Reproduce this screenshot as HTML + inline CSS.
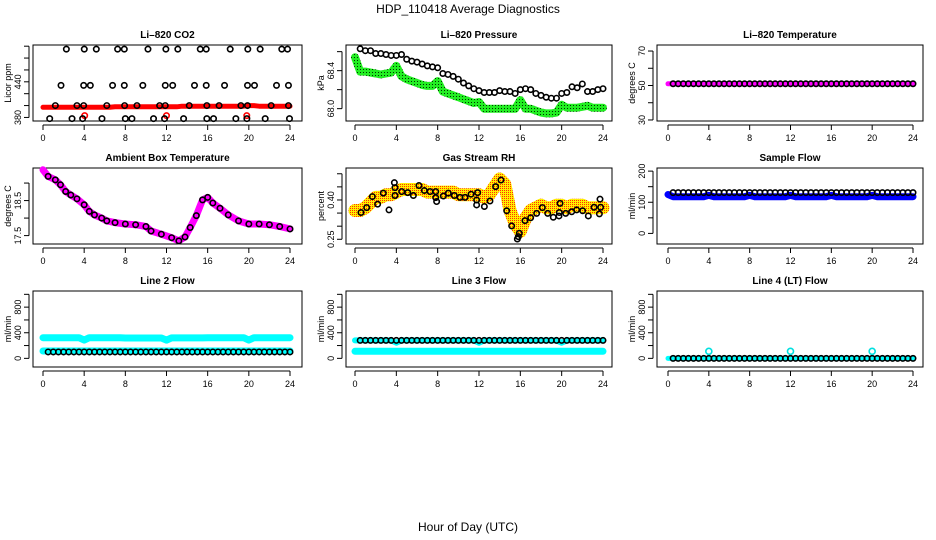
<!DOCTYPE html>
<html><head><meta charset="utf-8"><style>
html,body{margin:0;padding:0;background:#fff;}
svg{display:block;font-family:"Liberation Sans",sans-serif;}
</style></head><body>
<svg id="chart" width="936" height="540" viewBox="0 0 936 540">
<defs>
<pattern id="rhPat" width="2" height="2" patternUnits="userSpaceOnUse"><rect width="2" height="2" fill="#ffee00"/><rect width="1" height="1" fill="#ff3300"/></pattern>
<pattern id="grPat" width="3" height="3" patternUnits="userSpaceOnUse"><rect width="3" height="3" fill="#22ee22"/><rect width="1" height="1" fill="#003300"/></pattern>
</defs>
<text x="468" y="13" font-size="12" text-anchor="middle">HDP_110418  Average Diagnostics</text>
<text x="468" y="531" font-size="12" text-anchor="middle">Hour of Day (UTC)</text>
</svg>
<script>
// ---- shared x categories (hours) ----
const H0 = [0,0.5,1,1.5,2,2.5,3,3.5,4,4.5,5,5.5,6,6.5,7,7.5,8,8.5,9,9.5,10,10.5,11,11.5,12,12.5,13,13.5,14,14.5,15,15.5,16,16.5,17,17.5,18,18.5,19,19.5,20,20.5,21,21.5,22,22.5,23,23.5,24];
const H1 = [0.5,1,1.5,2,2.5,3,3.5,4,4.5,5,5.5,6,6.5,7,7.5,8,8.5,9,9.5,10,10.5,11,11.5,12,12.5,13,13.5,14,14.5,15,15.5,16,16.5,17,17.5,18,18.5,19,19.5,20,20.5,21,21.5,22,22.5,23,23.5,24];
const xTickLabels = ["0","4","8","12","16","20","24"];
const xTicks = [0,4,8,12,16,20,24];

// ---- CO2 ----
const co2Red = [397,397,397,397,397,397,397,397,397,397,397,397,397,397,398,398,398,398,398,398,398,398,398,398,398,398,398,399,399,399,399,399,399,399,399,399,399,399,399,399,400,400,399,399,399,399,399,399,399];
const co2RedPtsH = [4.05,12.0,19.8];
const co2RedPtsV = [383,383,383];
const co2BlkH = [2.27,4.01,5.18,7.25,7.9,10.2,11.94,13.1,15.28,15.86,18.19,19.9,21.1,23.2,23.76,
 1.75,3.95,4.6,6.76,7.9,9.7,11.88,12.6,14.72,15.86,17.64,19.87,20.55,22.69,23.85,
 1.2,3.3,3.95,6.2,7.93,9.13,11.33,11.88,14.21,15.92,17.11,19.23,19.87,22.17,23.85,
 0.65,2.82,3.85,5.73,8.0,8.64,10.74,11.81,13.66,15.92,16.57,18.74,19.81,21.59,23.95];
const co2BlkV = [495,495,495,495,495,495,495,495,495,495,495,495,495,495,495,
 434,434,434,434,434,434,434,434,434,434,434,434,434,434,434,
 400,400,400,400,400,400,400,400,400,400,400,400,400,400,400,
 378,378,378,378,378,378,378,378,378,378,378,378,378,378,378];

// ---- Pressure ----
const presBlk = [68.63,68.61,68.61,68.58,68.58,68.57,68.56,68.56,68.57,68.52,68.50,68.49,68.47,68.45,68.44,68.43,68.37,68.36,68.34,68.31,68.27,68.24,68.21,68.19,68.17,68.17,68.17,68.19,68.18,68.18,68.16,68.20,68.21,68.20,68.16,68.14,68.12,68.11,68.11,68.16,68.17,68.23,68.22,68.26,68.18,68.18,68.20,68.21];
const presGrn = [68.54,68.39,68.39,68.38,68.37,68.36,68.37,68.38,68.45,68.34,68.31,68.29,68.27,68.25,68.24,68.24,68.29,68.18,68.16,68.14,68.12,68.10,68.08,68.06,68.07,68.00,68.00,68.00,68.00,68.00,68.00,68.00,68.09,68.00,68.00,67.98,67.96,67.95,67.95,67.96,68.04,68.01,68.01,68.01,68.02,68.03,68.01,68.01,68.01];

// ---- Li-820 temperature ----
const tempMag = [51,51,51,51,51,51,51,51,51,51,51,51,51,51,51,51,51,51,51,51,51,51,51,51,51,51,51,51,51,51,51,51,51,51,51,51,51,51,51,51,51,51,51,51,51,51,51,51,51];
const tempBlk = [51,51,51,51,51,51,51,51,51,51,51,51,51,51,51,51,51,51,51,51,51,51,51,51,51,51,51,51,51,51,51,51,51,51,51,51,51,51,51,51,51,51,51,51,51,51,51,51];

// ---- Ambient box temperature ----
const ambH = [0,0.5,1.2,1.7,2.2,2.7,3.3,4,4.5,5,5.7,6.2,7,8,9,10,10.5,11.5,12.5,13.2,13.8,14.3,14.9,15.5,16,16.5,17.2,18,19,20,21,22,23,24];
const ambV = [19.38,19.19,19.09,18.95,18.76,18.66,18.55,18.38,18.19,18.09,18.0,17.92,17.87,17.83,17.81,17.76,17.63,17.54,17.44,17.35,17.46,17.73,18.07,18.52,18.59,18.43,18.28,18.09,17.92,17.83,17.83,17.81,17.76,17.69];

// ---- Gas stream RH ----
const rhBand = [0.36,0.36,0.37,0.39,0.41,0.41,0.42,0.42,0.43,0.44,0.44,0.44,0.44,0.44,0.43,0.43,0.43,0.43,0.43,0.43,0.42,0.42,0.42,0.42,0.42,0.41,0.42,0.45,0.48,0.46,0.36,0.31,0.28,0.33,0.36,0.37,0.38,0.37,0.37,0.38,0.38,0.37,0.38,0.38,0.38,0.37,0.37,0.37,0.37];
const rhBlkH = [0.58,1.13,1.68,2.19,2.74,3.29,3.81,3.87,3.87,4.52,5.1,5.65,6.19,6.71,7.26,7.81,7.81,7.9,8.55,9.03,9.61,10.16,10.65,11.23,11.77,11.77,11.87,12.52,13.06,13.61,14.13,14.68,15.16,15.71,15.81,15.9,16.45,17.0,17.58,18.13,18.65,19.19,19.74,19.84,19.77,20.39,20.97,21.45,22.03,22.58,23.13,23.65,23.71,23.77];
const rhBlkV = [0.352,0.371,0.413,0.384,0.426,0.362,0.466,0.447,0.417,0.432,0.428,0.417,0.455,0.436,0.432,0.432,0.409,0.394,0.415,0.426,0.417,0.410,0.410,0.422,0.400,0.381,0.428,0.375,0.396,0.451,0.476,0.359,0.301,0.251,0.260,0.273,0.321,0.332,0.349,0.371,0.349,0.334,0.339,0.387,0.352,0.349,0.355,0.362,0.359,0.339,0.372,0.347,0.403,0.372];

// ---- Sample flow ----
const sampBlue = [125,118,118,118,118,118,118,118,122,118,118,118,118,118,118,118,122,118,118,118,118,118,118,118,122,118,118,118,118,118,118,118,122,118,118,118,118,118,118,118,122,118,118,118,118,118,118,118,118];
const sampBlk = [131,131,131,131,131,131,131,131,131,131,131,131,131,131,131,131,131,131,131,131,131,131,131,131,131,131,131,131,131,131,131,131,131,131,131,131,131,131,131,131,131,131,131,131,131,131,131,131];

// ---- Line 2 ----
const l2CyanHi = [322,322,322,322,322,322,322,322,285,322,322,322,322,322,322,322,318,318,318,318,318,318,318,318,285,320,320,320,320,320,320,320,322,322,322,322,322,322,322,322,285,322,322,322,322,322,322,322,322];
const l2CyanLo = [115,115,115,115,115,115,115,115,115,115,115,115,115,115,115,115,115,115,115,115,115,115,115,115,115,115,115,115,115,115,115,115,115,115,115,115,115,115,115,115,115,115,115,115,115,115,115,115,115];
const l2Blk = [100,100,100,100,100,100,100,100,100,100,100,100,100,100,100,100,100,100,100,100,100,100,100,100,100,100,100,100,100,100,100,100,100,100,100,100,100,100,100,100,100,100,100,100,100,100,100,100];

// ---- Line 3 ----
const l3CyanHi = [280,280,280,280,280,280,280,280,245,280,280,280,280,280,280,280,280,280,280,280,280,280,280,280,245,280,280,280,280,280,280,280,280,280,280,280,280,280,280,280,245,280,280,280,280,280,280,280,280];
const l3CyanLo = [110,110,110,110,110,110,110,110,110,110,110,110,110,110,110,110,110,110,110,110,110,110,110,110,110,110,110,110,110,110,110,110,110,110,110,110,110,110,110,110,110,110,110,110,110,110,110,110,110];
const l3Blk = [280,280,280,280,280,280,280,280,280,280,280,280,280,280,280,280,280,280,280,280,280,280,280,280,280,280,280,280,280,280,280,280,280,280,280,280,280,280,280,280,280,280,280,280,280,280,280,280];

// ---- Line 4 ----
const l4Cyan = [0,0,0,0,0,0,0,0,0,0,0,0,0,0,0,0,0,0,0,0,0,0,0,0,0,0,0,0,0,0,0,0,0,0,0,0,0,0,0,0,0,0,0,0,0,0,0,0,0];
const l4Blk = [0,0,0,0,0,0,0,0,0,0,0,0,0,0,0,0,0,0,0,0,0,0,0,0,0,0,0,0,0,0,0,0,0,0,0,0,0,0,0,0,0,0,0,0,0,0,0,0];
const l4CyanPtsH = [4,12,20];
const l4CyanPtsV = [110,110,110];

// ---- y-axis ticks ----
const co2Ticks = [380,400,420,440,460,480,500], co2Labels = ["380","","","440","","",""];
const presTicks = [68.0,68.2,68.4,68.6], presLabels = ["68.0","","68.4",""];
const tempTicks = [30,40,50,60,70], tempLabels = ["30","","50","","70"];
const ambTicks = [17.5,18.0,18.5,19.0], ambLabels = ["17.5","","18.5",""];
const rhTicks = [0.25,0.30,0.35,0.40,0.45,0.50], rhLabels = ["0.25","","","0.40","",""];
const sampTicks = [0,50,100,150,200], sampLabels = ["0","","100","","200"];
const lineTicks = [0,200,400,600,800,1000], lineLabels = ["0","","400","","800",""];

const NS = "http://www.w3.org/2000/svg";
const svg = document.getElementById('chart');
function mk(tag, attrs, parent){const e=document.createElementNS(NS,tag);for(const k in attrs)e.setAttribute(k,attrs[k]);(parent||svg).appendChild(e);return e;}

const colsX = [[33,302,43,290],[346,612,355,603],[657,923,668,913]];
const rowsY = [[45,121],[168,244],[291,367]];

function panel(ci, ri, title, yDom, yTicks, yLabels, yTitle, name){
  const [bl,br,x0,x24]=colsX[ci]; const [bt,bb]=rowsY[ri];
  const g = mk('g',{});
  
  
  const xs = h => x0 + h*(x24-x0)/24;
  const ys = v => bb - (v-yDom[0])*(bb-bt)/(yDom[1]-yDom[0]);
  const t = mk('text',{x:(bl+br)/2,y:bt-7,'font-size':10,'font-weight':'bold','text-anchor':'middle'},g);
  t.textContent = title;
  
  
  const box = mk('rect',{x:bl,y:bt,width:br-bl,height:bb-bt,fill:'none',stroke:'#000','stroke-width':1},g);
  
  
  const xa = mk('g',{},g);
  
  
  mk('line',{x1:xs(xTicks[0]),x2:xs(xTicks[xTicks.length-1]),y1:bb+4,y2:bb+4,stroke:'#000'},xa);
  xTicks.forEach((h,i)=>{
    mk('line',{x1:xs(h),x2:xs(h),y1:bb+4,y2:bb+9,stroke:'#000'},xa);
    const l = mk('text',{x:xs(h),y:bb+20,'font-size':9,'text-anchor':'middle'},xa);
    l.textContent = xTickLabels[i];
  });
  const ya = mk('g',{},g);
  
  
  mk('line',{x1:bl-4,x2:bl-4,y1:ys(yTicks[0]),y2:ys(yTicks[yTicks.length-1]),stroke:'#000'},ya);
  yTicks.forEach((v,i)=>{
    mk('line',{x1:bl-9,x2:bl-4,y1:ys(v),y2:ys(v),stroke:'#000'},ya);
    if(yLabels[i]){const l=mk('text',{x:0,y:0,'font-size':9,'text-anchor':'middle',transform:`translate(${bl-12},${ys(v)}) rotate(-90)`},ya);l.textContent=yLabels[i];}
  });
  const yt = mk('text',{x:0,y:0,'font-size':9,'text-anchor':'middle',transform:`translate(${bl-22},${(bt+bb)/2}) rotate(-90)`},g);
  yt.textContent = yTitle;
  
  
  const clip = mk('g',{},g);
  return {g:clip,xs,ys};
}
function band(p, hs, vs, stroke, w, name){
  const pts = hs.map((h,i)=>p.xs(h).toFixed(1)+','+p.ys(vs[i]).toFixed(1)).join(' ');
  const pl = mk('polyline',{points:pts,fill:'none',stroke:stroke,'stroke-width':w,'stroke-linejoin':'round','stroke-linecap':'round'},p.g);
  
  
}
function dots(p, hs, vs, color, name, r){
  const g = mk('g',{},p.g);
  
  
  hs.forEach((h,i)=>{
    const c = mk('circle',{cx:p.xs(h),cy:p.ys(vs[i]),r:r||2.7,fill:'none',stroke:color,'stroke-width':1.6},g);
    
    
  });
}

// Row 1
let p = panel(0,0,'Li\u2013820 CO2',[374,502],co2Ticks,co2Labels,'Licor ppm','co2');
band(p,H0,co2Red,'#ff0000',5,'co2-red-series');
dots(p,co2RedPtsH,co2RedPtsV,'#ff0000','co2-red-points');
dots(p,co2BlkH,co2BlkV,'#000','co2-black-points');

p = panel(1,0,'Li\u2013820 Pressure',[67.87,68.67],presTicks,presLabels,'kPa','pressure');
band(p,H0,presGrn,'url(#grPat)',8,'pressure-green-series');
dots(p,H1,presBlk,'#000','pressure-black-points');

p = panel(2,0,'Li\u2013820 Temperature',[29.4,73.5],tempTicks,tempLabels,'degrees C','li820-temp');
band(p,H0,tempMag,'#ff00ff',5,'li820-temp-magenta-series');
dots(p,H1,tempBlk,'#000','li820-temp-black-points');

// Row 2
p = panel(0,1,'Ambient Box Temperature',[17.26,19.43],ambTicks,ambLabels,'degrees C','ambient-temp');
band(p,ambH,ambV,'#ff00ff',7,'ambient-temp-magenta-series');
dots(p,ambH.slice(1),ambV.slice(1),'#000','ambient-temp-black-points');

p = panel(1,1,'Gas Stream RH',[0.232,0.522],rhTicks,rhLabels,'percent','gas-rh');
band(p,H0,rhBand,'url(#rhPat)',13,'gas-rh-band-series');
dots(p,rhBlkH,rhBlkV,'#000','gas-rh-black-points');

p = panel(2,1,'Sample Flow',[-34,210],sampTicks,sampLabels,'ml/min','sample-flow');
band(p,H0,sampBlue,'#0000ff',7,'sample-flow-blue-series');
dots(p,H1,sampBlk,'#000','sample-flow-black-points');

// Row 3
p = panel(0,2,'Line 2 Flow',[-135,1052],lineTicks,lineLabels,'ml/min','line2-flow');
band(p,H0,l2CyanHi,'#00ffff',7,'line2-cyan-high-series');
band(p,H0,l2CyanLo,'#00ffff',7,'line2-cyan-low-series');
dots(p,H1,l2Blk,'#000','line2-black-points');

p = panel(1,2,'Line 3 Flow',[-135,1052],lineTicks,lineLabels,'ml/min','line3-flow');
band(p,H0,l3CyanHi,'#00ffff',6,'line3-cyan-high-series');
band(p,H0,l3CyanLo,'#00ffff',7,'line3-cyan-low-series');
dots(p,H1,l3Blk,'#000','line3-black-points');

p = panel(2,2,'Line 4 (LT) Flow',[-135,1052],lineTicks,lineLabels,'ml/min','line4-flow');
band(p,H0,l4Cyan,'#00ffff',5,'line4-cyan-series');
dots(p,H1,l4Blk,'#000','line4-black-points');
dots(p,l4CyanPtsH,l4CyanPtsV,'#00e0e0','line4-cyan-points',3);
</script>
</body></html>
